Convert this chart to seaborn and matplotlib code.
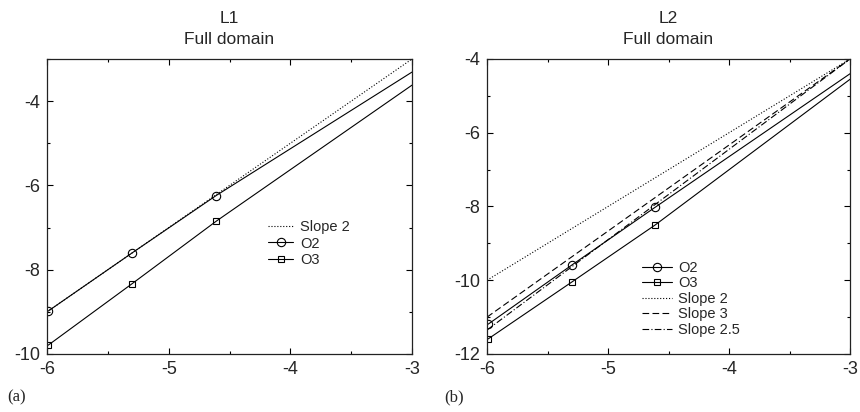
import numpy as np
import pandas as pd
import matplotlib.pyplot as plt
import seaborn as sns
from matplotlib.ticker import MultipleLocator

# log(h) values, the last point only carries the line to the edge
x_pts = [-5.99, -5.30, -4.61, -3.0]
x_ref = [-6.0, -3.0]

# panel (a): L1 error
l1_o2 = [-8.98, -7.60, -6.24, -3.31]
l1_o3 = [-9.79, -8.33, -6.85, -3.62]
l1_slope2 = [-9.0, -3.0]

# panel (b): L2 error
l2_o2 = [-11.19, -9.59, -8.02, -4.40]
l2_o3 = [-11.59, -10.05, -8.50, -4.55]
l2_slope2 = [-10.0, -4.0]
l2_slope3 = [-11.0, -4.0]
l2_slope25 = [-11.35, -4.0]

sns.set_style("ticks")
plt.rcParams['font.family'] = ['Liberation Sans', 'DejaVu Sans']
plt.rcParams['axes.unicode_minus'] = False
plt.rcParams['xtick.direction'] = 'in'
plt.rcParams['ytick.direction'] = 'in'

fig = plt.figure(figsize=(8.6, 4.12), dpi=100)
ax1 = fig.add_axes([0.0547, 0.1408, 0.4244, 0.7160])
ax2 = fig.add_axes([0.5663, 0.1408, 0.4221, 0.7160])

lw = 0.8
mk = dict(markevery=[0, 1, 2], markerfacecolor='none', markeredgecolor='k',
          markeredgewidth=0.8)


def serie(ax, x, y, label, **kw):
    df = pd.DataFrame({'x': x, 'y': y})
    sns.lineplot(data=df, x='x', y='y', ax=ax, color='k', linewidth=lw,
                 label=label, **kw)


# (a)
serie(ax1, x_ref, l1_slope2, 'Slope 2', linestyle=':')
serie(ax1, x_pts, l1_o2, 'O2', marker='o', markersize=6, **mk)
serie(ax1, x_pts, l1_o3, 'O3', marker='s', markersize=4.5, **mk)

# (b)
serie(ax2, x_pts, l2_o2, 'O2', marker='o', markersize=6, **mk)
serie(ax2, x_pts, l2_o3, 'O3', marker='s', markersize=4.5, **mk)
serie(ax2, x_ref, l2_slope2, 'Slope 2', linestyle=':')
serie(ax2, x_ref, l2_slope3, 'Slope 3', linestyle=(0, (6, 3)))
serie(ax2, x_ref, l2_slope25, 'Slope 2.5', linestyle=(0, (6, 2, 1, 2)))

for ax, ylim, title in [(ax1, (-10, -3), 'L1\nFull domain'),
                        (ax2, (-12, -4), 'L2\nFull domain')]:
    ax.set_xlim(-6, -3)
    ax.set_ylim(*ylim)
    ax.xaxis.set_major_locator(MultipleLocator(1))
    ax.xaxis.set_minor_locator(MultipleLocator(0.5))
    ax.yaxis.set_major_locator(MultipleLocator(2))
    ax.yaxis.set_minor_locator(MultipleLocator(1))
    ax.tick_params(which='both', top=True, right=True, labelsize=13,
                   width=0.8, color='k')
    ax.tick_params(which='major', length=4, pad=5)
    ax.tick_params(which='minor', length=2)
    ax.set_xlabel('')
    ax.set_ylabel('')
    ax.set_title(title, fontsize=12.5, linespacing=1.45, pad=11)
    for s in ax.spines.values():
        s.set_linewidth(0.9)
        s.set_color('#222222')

ax1.legend(loc='upper left', bbox_to_anchor=(0.57, 0.50), frameon=False,
           fontsize=10.5, handlelength=1.7, labelspacing=0.2, handletextpad=0.5)
ax2.legend(loc='upper left', bbox_to_anchor=(0.39, 0.36), frameon=False,
           fontsize=10.5, handlelength=2.1, labelspacing=0.1, handletextpad=0.4)

fig.text(0.008, 0.025, '(a)', family=['Liberation Serif', 'DejaVu Serif'], fontsize=12)
fig.text(0.517, 0.025, '(b)', family=['Liberation Serif', 'DejaVu Serif'], fontsize=12)

fig.savefig('out.png', dpi=100)
